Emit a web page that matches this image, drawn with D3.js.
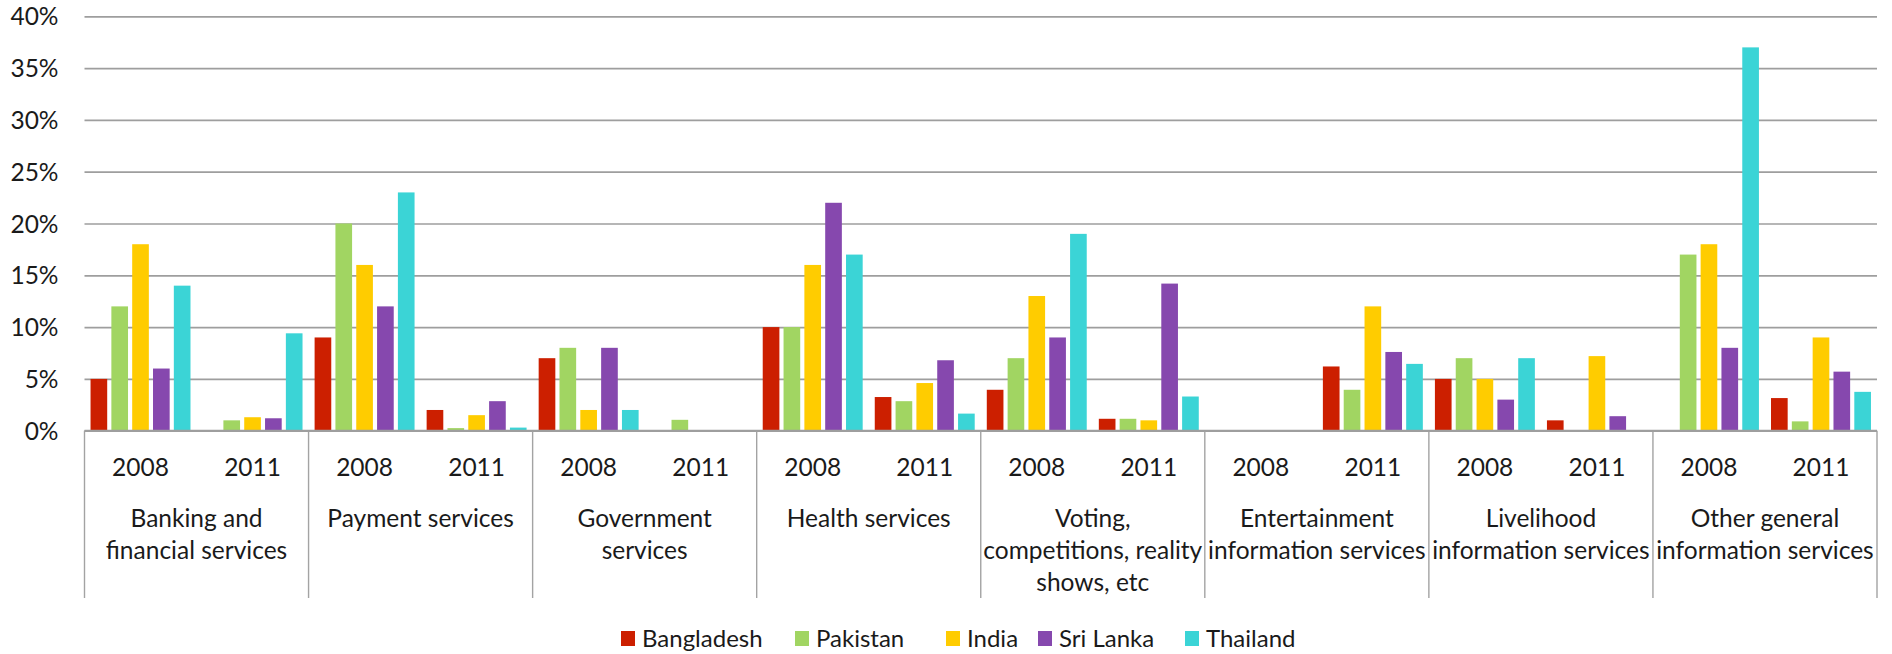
<!DOCTYPE html>
<html>
<head>
<meta charset="utf-8">
<script src="https://cdn.jsdelivr.net/npm/d3@7"></script>
<style>
  html, body { margin: 0; padding: 0; background: #ffffff; }
  svg { display: block; }
  text { font-family: Lato, "Open Sans", sans-serif; fill: #1a1a1a; }
</style>
</head>
<body>
<svg id="chart" width="1892" height="654"></svg>
<script>
// Service categories (line breaks mark how each label wraps)
const categories = [
  "Banking and\nfinancial services",
  "Payment services",
  "Government\nservices",
  "Health services",
  "Voting,\ncompetitions, reality\nshows, etc",
  "Entertainment\ninformation services",
  "Livelihood\ninformation services",
  "Other general\ninformation services"
];
const years = ["2008", "2011"];
const countries = ["Bangladesh", "Pakistan", "India", "Sri Lanka", "Thailand"];
const colors = ["#cc1f00", "#a1d562", "#ffcc00", "#8648ae", "#3bd4d6"];

// Share of users (%) per category, in order: 2008, 2011 for each category
const bangladesh = [5, 0.05, 9, 2, 7, 0, 10, 3.25, 3.95, 1.15, 0, 6.2, 5, 1, 0, 3.15];
const pakistan   = [12, 1, 20, 0.25, 8, 1.05, 10, 2.85, 7, 1.15, 0, 3.95, 7, 0, 17, 0.9];
const india      = [18, 1.3, 16, 1.5, 2, 0, 16, 4.6, 13, 1, 0, 12, 5, 7.2, 18, 9];
const sriLanka   = [6, 1.2, 12, 2.85, 8, 0.05, 22, 6.8, 9, 14.2, 0, 7.6, 3, 1.4, 8, 5.7];
const thailand   = [14, 9.4, 23, 0.3, 2, 0, 17, 1.65, 19, 3.3, 0, 6.45, 7, 0, 37, 3.75];

const yTicks = [0, 5, 10, 15, 20, 25, 30, 35, 40];

const seriesValues = [bangladesh, pakistan, india, sriLanka, thailand];

const svg = d3.select("#chart");
const plot = { left: 84.5, right: 1877, top: 16.3, bottom: 430.7, axisBottom: 598 };
const fontSize = "24.5px";

const x0 = d3.scaleBand().domain(d3.range(categories.length)).range([plot.left, plot.right]);
const x1 = d3.scaleBand().domain(years).range([0, x0.bandwidth()]);
const x2 = d3.scaleBand().domain(countries).range([0, x1.bandwidth()])
  .paddingInner(0.2).paddingOuter(0.29);
const y = d3.scaleLinear().domain([0, 40]).range([plot.bottom, plot.top]);

// Horizontal gridlines and percentage labels
const yAxis = d3.axisLeft(y)
  .tickValues(yTicks)
  .tickFormat(d => d + "%")
  .tickSize(-(plot.right - plot.left))
  .tickPadding(26);
const gy = svg.append("g")
  .attr("transform", `translate(${plot.left},0)`)
  .call(yAxis);
gy.select(".domain").remove();
gy.selectAll(".tick line").attr("stroke", "#9e9e9e").attr("stroke-width", 1.7);
gy.selectAll(".tick text")
  .attr("x", 58.5 - plot.left)
  .attr("dy", "0.35em")
  .style("font-size", fontSize)
  .style("fill", "#1a1a1a");

// Bars: one group per category/year, one bar per country
const cells = [];
categories.forEach((c, ci) => {
  years.forEach((yr, yi) => {
    countries.forEach((country, si) => {
      cells.push({ ci, yr, country, si, value: seriesValues[si][ci * 2 + yi] });
    });
  });
});

svg.append("g").selectAll("rect")
  .data(cells.filter(d => d.value > 0))
  .join("rect")
  .attr("x", d => x0(d.ci) + x1(d.yr) + x2(d.country))
  .attr("y", d => y(d.value))
  .attr("width", x2.bandwidth())
  .attr("height", d => y(0) - y(d.value))
  .attr("fill", d => colors[d.si]);

// Category separators below the baseline
const bounds = d3.range(categories.length).map(i => x0(i)).concat([plot.right]);
svg.append("g").selectAll("line")
  .data(bounds)
  .join("line")
  .attr("x1", d => d).attr("x2", d => d)
  .attr("y1", plot.bottom).attr("y2", plot.axisBottom)
  .attr("stroke", "#a3a3a3")
  .attr("stroke-width", 1.4);

// Baseline
svg.append("line")
  .attr("x1", plot.left).attr("x2", plot.right)
  .attr("y1", y(0)).attr("y2", y(0))
  .attr("stroke", "#9e9e9e").attr("stroke-width", 1.8);

// Year labels
const yearLabels = [];
categories.forEach((c, ci) => years.forEach(yr => yearLabels.push({ ci, yr })));
svg.append("g").selectAll("text")
  .data(yearLabels)
  .join("text")
  .attr("x", d => x0(d.ci) + x1(d.yr) + x1.bandwidth() / 2)
  .attr("y", 467)
  .attr("dy", "0.35em")
  .attr("text-anchor", "middle")
  .style("font-size", fontSize)
  .text(d => d.yr);

// Category labels, wrapped
const catG = svg.append("g").selectAll("text")
  .data(categories.map((c, ci) => ({ ci, lines: c.split("\n") })))
  .join("text")
  .attr("text-anchor", "middle")
  .style("font-size", fontSize);
catG.selectAll("tspan")
  .data(d => d.lines.map((line, li) => ({ line, li, ci: d.ci })))
  .join("tspan")
  .attr("x", d => x0(d.ci) + x0.bandwidth() / 2)
  .attr("y", d => 518 + d.li * 32)
  .attr("dy", "0.35em")
  .text(d => d.line);

// Legend
const legendX = [621, 795, 946, 1038, 1185];
const legend = svg.append("g").selectAll("g")
  .data(countries)
  .join("g")
  .attr("transform", (d, i) => `translate(${legendX[i]},631)`);
legend.append("rect")
  .attr("width", 14).attr("height", 15)
  .attr("fill", (d, i) => colors[i]);
legend.append("text")
  .attr("x", 21)
  .attr("y", 8)
  .attr("dy", "0.35em")
  .style("font-size", "24px")
  .text(d => d);
</script>
</body>
</html>
